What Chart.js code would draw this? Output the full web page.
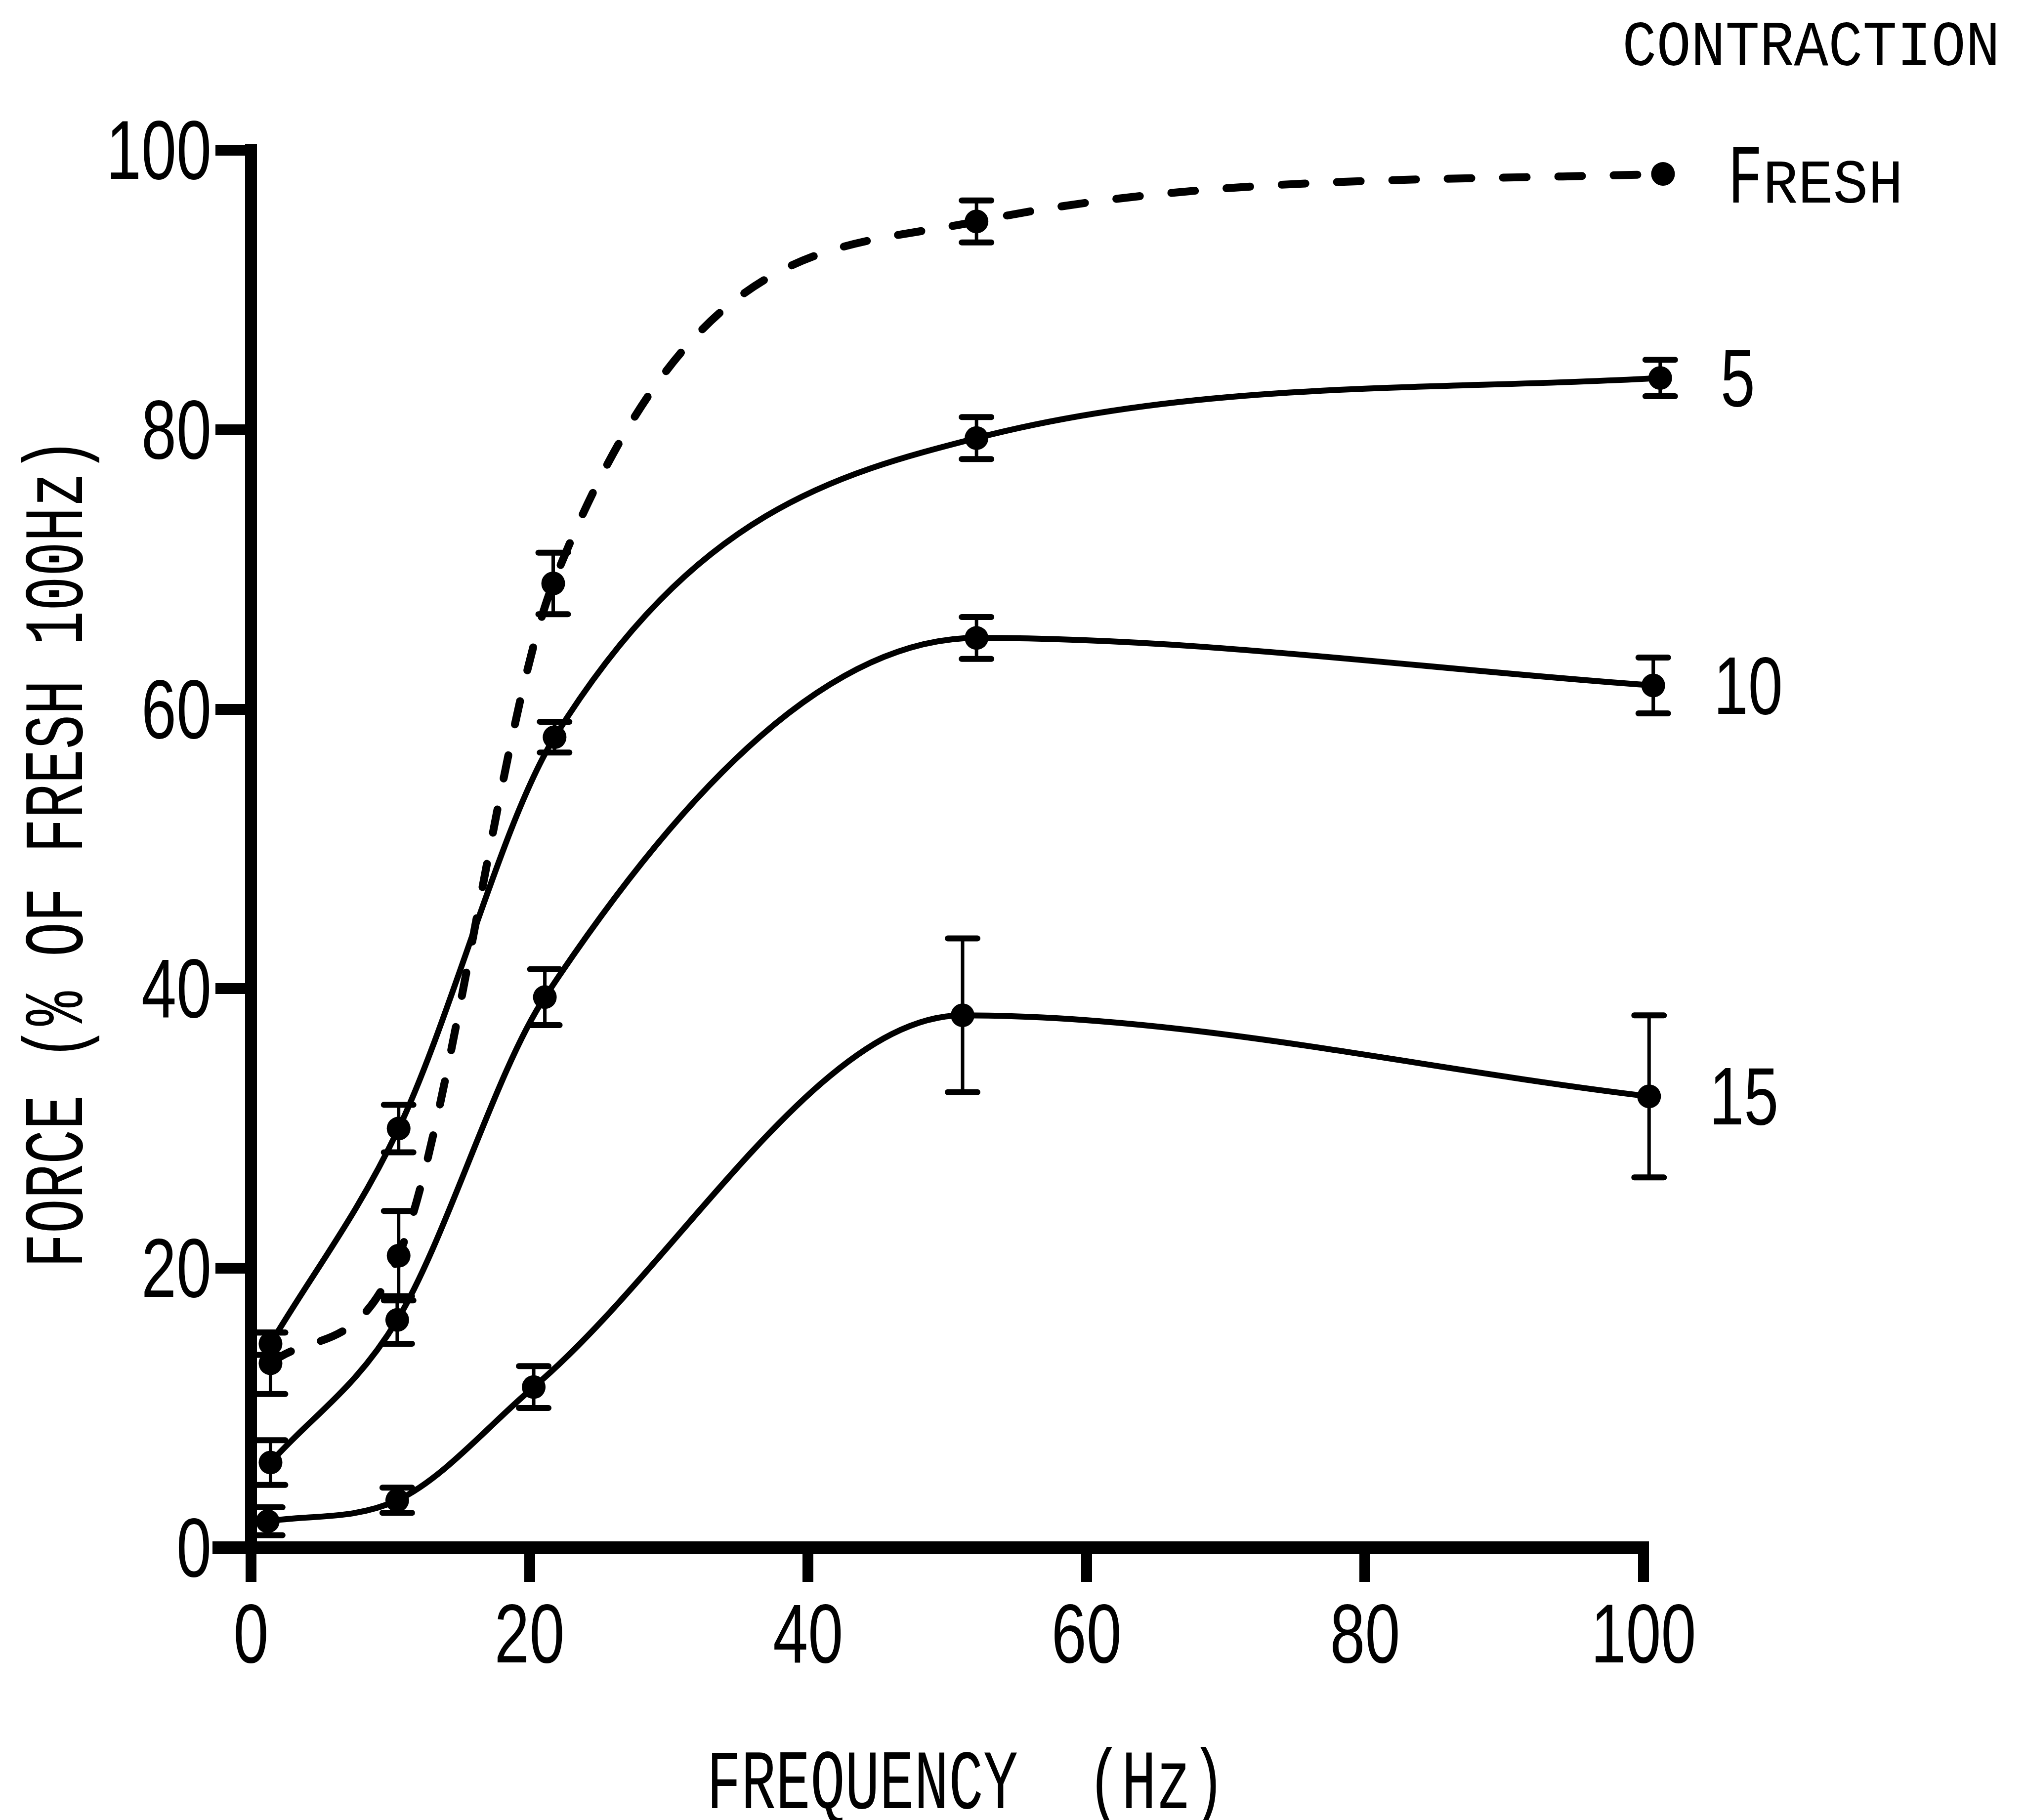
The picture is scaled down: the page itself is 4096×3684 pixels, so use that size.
<!DOCTYPE html>
<html>
<head>
<meta charset="utf-8">
<script src="https://cdn.jsdelivr.net/npm/chart.js@4.4.1/dist/chart.umd.min.js"></script>
<style>
  html, body { margin: 0; padding: 0; background: #fff; }
  canvas { display: block; }
</style>
</head>
<body>
<canvas id="forceChart" width="4096" height="3684"></canvas>
<script>
// Frequency (Hz), force (% of fresh at 100 Hz) and error
const freshHz = [1.4, 10.6, 21.7, 52.1, 101.4];
const freshForce = [13.2, 20.9, 69.0, 94.9, 98.3];
const freshErr = [2.2, 3.2, 2.2, 1.5, 0];

const c5Hz = [1.4, 10.6, 21.8, 52.1, 101.2];
const c5Force = [14.6, 30.0, 58.0, 79.4, 83.7];
const c5Err = [0.8, 1.7, 1.1, 1.5, 1.3];

const c10Hz = [1.4, 10.5, 21.1, 52.1, 100.7];
const c10Force = [6.1, 16.3, 39.4, 65.1, 61.7];
const c10Err = [1.6, 1.7, 2.0, 1.5, 2.0];

const c15Hz = [1.2, 10.5, 20.3, 51.1, 100.4];
const c15Force = [1.9, 3.4, 11.5, 38.1, 32.3];
const c15Err = [1.0, 0.9, 1.5, 5.5, 5.8];

const seriesLabels = ['FRESH', '5', '10', '15'];
const xTicks = [0, 20, 40, 60, 80, 100];
const yTicks = [0, 20, 40, 60, 80, 100];

const monoFont = '"Liberation Mono", "DejaVu Sans Mono", monospace';
const digitFont = '"Liberation Sans", Arial, sans-serif';

// pares {x, y} para cada curva
function toPoints(xs, ys) {
  return xs.map((x, i) => ({ x: x, y: ys[i] }));
}

// letra de plotter: se ajusta la altura de mayusculas y el paso de caracter
function drawText(ctx, text, x, y, capHeight, pitch, align, angle, family) {
  const fam = family || monoFont;
  const ref = family ? '0' : 'H';
  ctx.save();
  ctx.font = '100px ' + fam;
  const m = ctx.measureText(ref);
  const size = capHeight / m.actualBoundingBoxAscent * 100;
  const sx = pitch / (m.width * size / 100);
  ctx.translate(x, y);
  if (angle) ctx.rotate(angle);
  ctx.scale(sx, 1);
  ctx.font = size + 'px ' + fam;
  ctx.fillStyle = '#000';
  ctx.textAlign = align || 'left';
  ctx.textBaseline = 'alphabetic';
  ctx.fillText(text, 0, 0);
  ctx.restore();
}

const lineBase = {
  borderColor: '#000',
  backgroundColor: '#000',
  pointBackgroundColor: '#000',
  pointBorderWidth: 0,
  pointRadius: 24,
  pointHoverRadius: 70,   // solo para que no se oculten los puntos a ~101 Hz
  cubicInterpolationMode: 'monotone',
  fill: false,
  clip: false
};

const chartData = {
  datasets: [
    Object.assign({}, lineBase, {
      label: seriesLabels[0], data: toPoints(freshHz, freshForce), errors: freshErr,
      borderWidth: 16, borderDash: [48, 64], borderCapStyle: 'round'
    }),
    Object.assign({}, lineBase, {
      label: seriesLabels[1], data: toPoints(c5Hz, c5Force), errors: c5Err, borderWidth: 12
    }),
    Object.assign({}, lineBase, {
      label: seriesLabels[2], data: toPoints(c10Hz, c10Force), errors: c10Err, borderWidth: 12
    }),
    Object.assign({}, lineBase, {
      label: seriesLabels[3], data: toPoints(c15Hz, c15Force), errors: c15Err, borderWidth: 12
    })
  ]
};

// barras de error con sus topes
const errorBars = {
  id: 'errorBars',
  afterDatasetsDraw(chart) {
    const ctx = chart.ctx;
    const yScale = chart.scales.y;
    ctx.save();
    ctx.strokeStyle = '#000';
    chart.data.datasets.forEach((ds, di) => {
      const meta = chart.getDatasetMeta(di);
      meta.data.forEach((pt, i) => {
        const e = ds.errors[i];
        if (!e) return;
        const v = ds.data[i].y;
        const yTop = yScale.getPixelForValue(v + e);
        const yBot = yScale.getPixelForValue(v - e);
        ctx.lineWidth = 7;
        ctx.beginPath();
        ctx.moveTo(pt.x, yTop);
        ctx.lineTo(pt.x, yBot);
        ctx.stroke();
        ctx.lineWidth = 12;
        ctx.lineCap = 'round';
        ctx.beginPath();
        ctx.moveTo(pt.x - 30, yTop);
        ctx.lineTo(pt.x + 30, yTop);
        ctx.moveTo(pt.x - 30, yBot);
        ctx.lineTo(pt.x + 30, yBot);
        ctx.stroke();
        ctx.lineCap = 'butt';
      });
    });
    ctx.restore();
  }
};

// titulos, etiquetas de los ejes, rotulos de las curvas
const annotations = {
  id: 'annotations',
  beforeDatasetsDraw(chart) {
    // trozo del eje x a la izquierda del eje y
    const ctx = chart.ctx;
    const a = chart.chartArea;
    ctx.save();
    ctx.strokeStyle = '#000';
    ctx.lineWidth = 26;
    ctx.beginPath();
    ctx.moveTo(a.left - 78, a.bottom);
    ctx.lineTo(a.left, a.bottom);
    ctx.stroke();
    ctx.restore();
  },
  afterDraw(chart) {
    const ctx = chart.ctx;
    const a = chart.chartArea;
    const xs = chart.scales.x;
    const ys = chart.scales.y;
    const cx = (a.left + a.right) / 2;
    const cy = (a.top + a.bottom) / 2;

    xs.ticks.forEach(t => {
      drawText(ctx, String(t.value), xs.getPixelForValue(t.value), a.bottom + 232, 118, 71, 'center', 0, digitFont);
    });
    ys.ticks.forEach(t => {
      drawText(ctx, String(t.value), a.left - 80, ys.getPixelForValue(t.value) + 58, 118, 71, 'right', 0, digitFont);
    });

    drawText(ctx, 'FREQUENCY  (Hz)', cx + 38, 3660, 115, 70, 'center');
    drawText(ctx, 'FORCE (% OF FRESH 100Hz)', 166, cy + 8, 114, 70, 'center', -Math.PI / 2);
    drawText(ctx, 'CONTRACTION', a.right - 43, a.top - 172, 87, 69.5, 'left');

    chart.data.datasets.forEach((ds, di) => {
      const meta = chart.getDatasetMeta(di);
      const last = meta.data[meta.data.length - 1];
      if (di === 0) {
        // versalitas: F grande, RESH pequeno
        drawText(ctx, ds.label.charAt(0), last.x + 131, last.y + 58, 115, 71, 'left');
        drawText(ctx, ds.label.slice(1), last.x + 202, last.y + 58, 84, 71, 'left');
      } else {
        drawText(ctx, ds.label, last.x + 122, last.y + 57, 115, 70, 'left', 0, digitFont);
      }
    });
  }
};

const config = {
  type: 'line',
  data: chartData,
  options: {
    responsive: false,
    devicePixelRatio: 1,
    animation: false,
    events: [],
    layout: { padding: { top: 304, right: 770, bottom: 0, left: 0 } },
    plugins: {
      legend: { display: false },
      tooltip: { enabled: false }
    },
    scales: {
      x: {
        type: 'linear',
        min: 0,
        max: 100,
        afterBuildTicks: s => { s.ticks = xTicks.map(v => ({ value: v })); },
        afterFit: s => { s.height = 551; },
        border: { display: true, color: '#000', width: 26 },
        grid: { drawOnChartArea: false, drawTicks: true, tickLength: 69, lineWidth: 22, tickWidth: 22, color: '#000', tickColor: '#000' },
        ticks: { display: false },
        title: { display: false }
      },
      y: {
        type: 'linear',
        min: 0,
        max: 100,
        afterBuildTicks: s => { s.ticks = yTicks.map(v => ({ value: v })); },
        afterFit: s => { s.width = 508; },
        border: { display: true, color: '#000', width: 24 },
        grid: { drawOnChartArea: false, drawTicks: true, tickLength: 72, lineWidth: 22, tickWidth: 22, color: '#000', tickColor: '#000' },
        ticks: { display: false },
        title: { display: false }
      }
    }
  },
  plugins: [errorBars, annotations]
};

const forceChart = new Chart(document.getElementById('forceChart'), config);
</script>
</body>
</html>
